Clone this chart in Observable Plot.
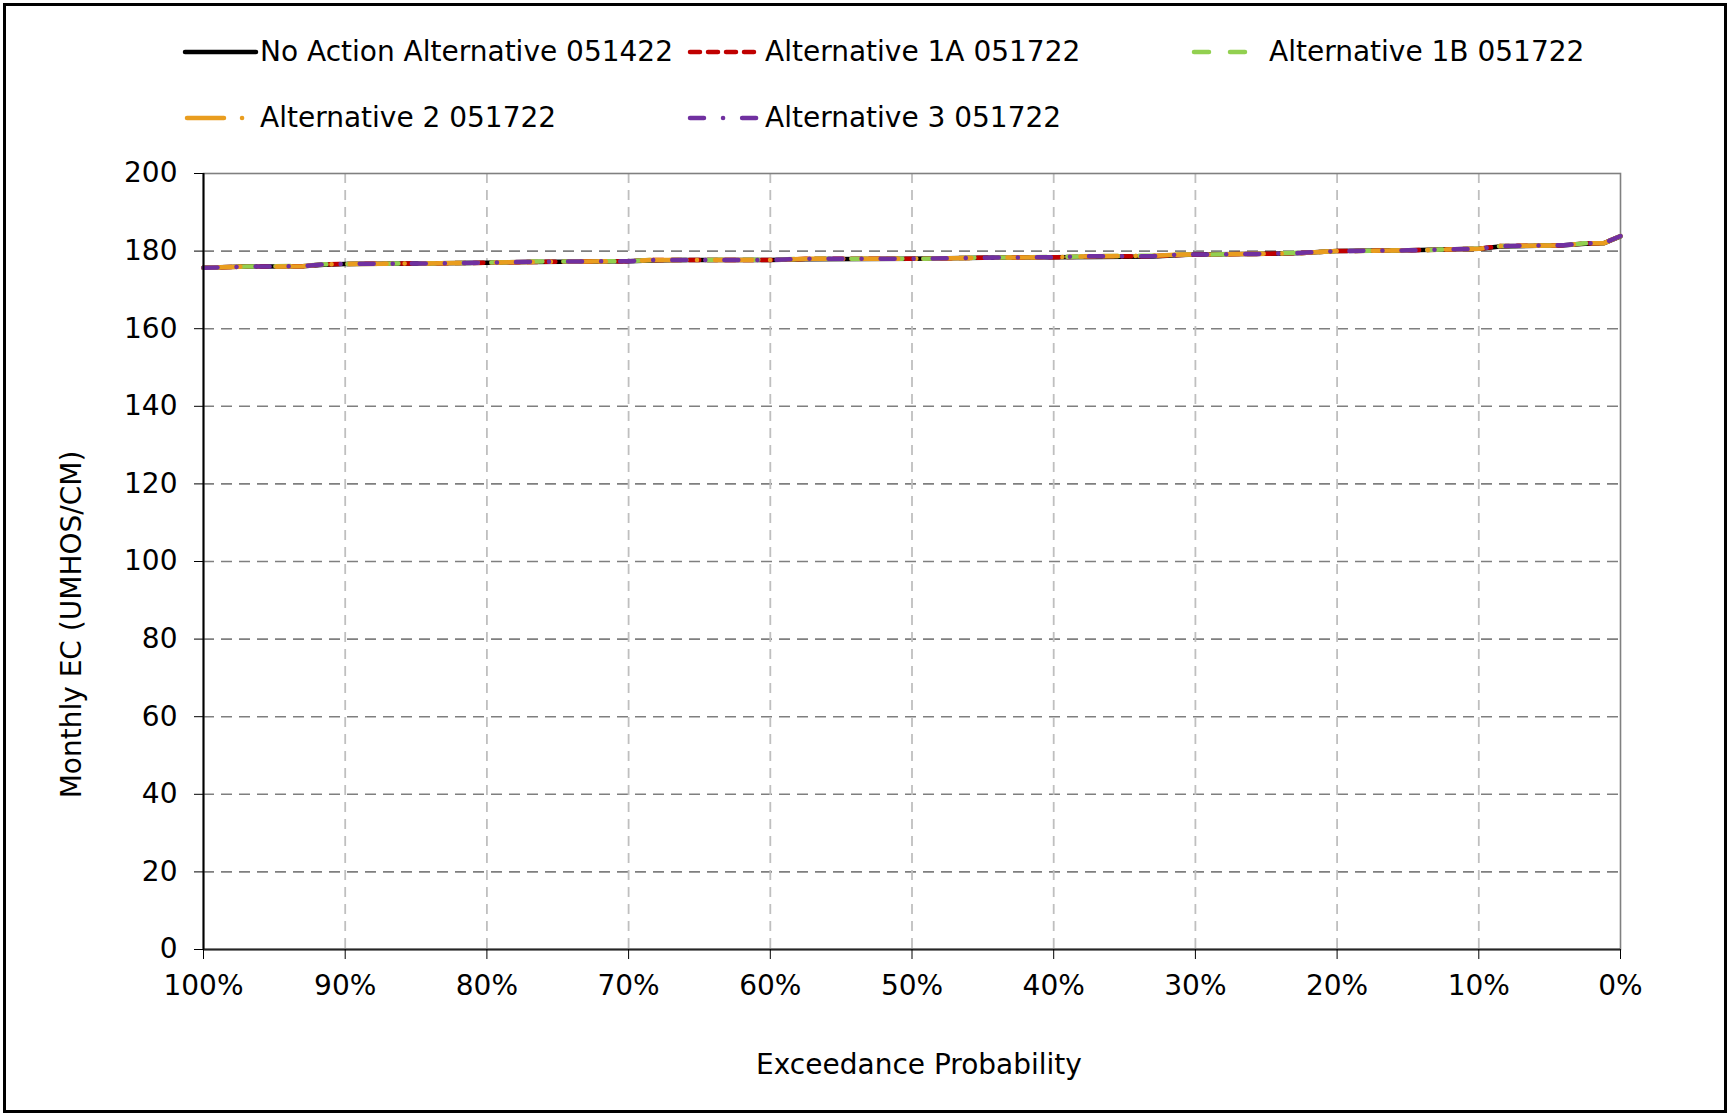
<!DOCTYPE html>
<html>
<head>
<meta charset="utf-8">
<script src="https://cdn.jsdelivr.net/npm/d3@7"></script>
<script src="https://cdn.jsdelivr.net/npm/@observablehq/plot@0.6"></script>
<style>
  html, body { margin: 0; padding: 0; background: #fff; }
  #page { position: relative; width: 1730px; height: 1115px; overflow: hidden; font-family: "DejaVu Sans", Verdana, sans-serif; }
  #chart { position: absolute; left: 0; top: 0; }
  #border { position: absolute; left: 3px; top: 3px; width: 1724px; height: 1110px; box-sizing: border-box; border: 3px solid #000; pointer-events: none; }
  .lg { position: absolute; height: 40px; line-height: 40px; font-size: 28px; color: #000; white-space: nowrap; }
  .sw { position: absolute; overflow: visible; }
</style>
</head>
<body>
<div id="page">
  <div id="chart"></div>
  <div id="legend"></div>
  <div id="border"></div>
</div>
<script>
// ---- data ----
const seriesNames = [
  "No Action Alternative 051422",
  "Alternative 1A 051722",
  "Alternative 1B 051722",
  "Alternative 2 051722",
  "Alternative 3 051722"
];
const seriesColors = ["#000000", "#c00000", "#92d050", "#e99d1f", "#7030a0"];

const exceedance = [100, 97, 93, 91.5, 90, 85, 80, 77, 70, 68.5, 66, 60, 57.5, 50, 45, 40, 37, 33, 31, 30, 25, 22.5, 20, 15, 10, 8.5, 4, 2.5, 1.2, 0];
const noAction = [175.7, 176.0, 176.1, 176.5, 176.7, 176.8, 177.0, 177.2, 177.4, 177.6, 177.7, 177.7, 177.9, 178.0, 178.3, 178.4, 178.5, 178.6, 179.0, 179.1, 179.3, 179.5, 180.0, 180.2, 180.6, 181.2, 181.5, 181.9, 182.0, 183.8];
const alt1A    = [175.7, 176.0, 176.1, 176.6, 176.7, 176.8, 177.0, 177.2, 177.4, 177.7, 177.7, 177.7, 178.0, 178.0, 178.3, 178.4, 178.7, 178.7, 179.0, 179.1, 179.3, 179.5, 180.0, 180.2, 180.6, 181.3, 181.5, 182.0, 182.0, 183.9];
const alt1B    = [175.7, 176.0, 176.2, 176.6, 176.7, 176.8, 177.0, 177.3, 177.4, 177.7, 177.7, 177.8, 178.0, 178.0, 178.3, 178.5, 178.7, 178.8, 179.1, 179.1, 179.3, 179.6, 180.0, 180.2, 180.6, 181.3, 181.5, 182.0, 182.0, 183.9];
const alt2     = [175.7, 176.0, 176.1, 176.6, 176.7, 176.8, 177.0, 177.2, 177.4, 177.7, 177.7, 177.7, 178.0, 178.0, 178.3, 178.4, 178.7, 178.8, 179.1, 179.1, 179.3, 179.5, 180.0, 180.2, 180.6, 181.3, 181.5, 182.0, 182.0, 183.9];
const alt3     = [175.7, 176.0, 176.1, 176.6, 176.7, 176.8, 177.0, 177.25, 177.4, 177.7, 177.7, 177.7, 178.0, 178.0, 178.3, 178.45, 178.7, 178.7, 179.1, 179.1, 179.3, 179.55, 180.0, 180.2, 180.6, 181.3, 181.5, 182.0, 182.0, 183.9];
const seriesValues = [noAction, alt1A, alt1B, alt2, alt3];

const xTicks = [100, 90, 80, 70, 60, 50, 40, 30, 20, 10, 0];
const xTickLabels = ["100%", "90%", "80%", "70%", "60%", "50%", "40%", "30%", "20%", "10%", "0%"];
const yTicks = [0, 20, 40, 60, 80, 100, 120, 140, 160, 180, 200];
const xTitle = "Exceedance Probability";
const yTitle = "Monthly EC (UMHOS/CM)";

// ---- styles ----
const dashes = [null, "10,8", "15,21", "37,18,0.1,18", "14,19,0.1,19"];
const lineW = 4.5;

const rows = [];
seriesNames.forEach((name, s) => {
  exceedance.forEach((p, i) => rows.push({series: name, p, v: seriesValues[s][i]}));
});

const lineMarks = seriesNames.map((name, s) =>
  Plot.line(rows.filter(r => r.series === name), {
    x: "p", y: "v",
    stroke: seriesColors[s],
    strokeWidth: lineW,
    strokeDasharray: dashes[s] || undefined,
    strokeLinecap: "round",
    strokeLinejoin: "round"
  })
);

const chart = Plot.plot({
  width: 1730,
  height: 1115,
  marginTop: 173,
  marginBottom: 166,
  marginLeft: 203,
  marginRight: 110,
  style: {fontFamily: "'DejaVu Sans', Verdana, sans-serif", fontSize: "28px", color: "#000", background: "transparent"},
  x: {domain: [100, 0]},
  y: {domain: [0, 200]},
  marks: [
    Plot.gridY(yTicks.slice(1, -1), {stroke: "#7f7f7f", strokeOpacity: 1, strokeWidth: 1.6, strokeDasharray: "11,7"}),
    Plot.gridX(xTicks.slice(1, -1), {stroke: "#bfbfbf", strokeOpacity: 1, strokeWidth: 1.8, strokeDasharray: "10,7"}),
    Plot.frame({stroke: "#808080", strokeWidth: 1.6}),
    ...lineMarks,
    Plot.ruleY([0], {stroke: "#262626", strokeWidth: 2}),
    Plot.ruleX([100], {stroke: "#000", strokeWidth: 2}),
    Plot.axisX(xTicks, {tickFormat: d => xTickLabels[xTicks.indexOf(d)], tickSize: 10, tickPadding: 16, label: null, fontSize: 28}),
    Plot.axisY(yTicks, {tickSize: 9, tickPadding: 17, label: null, fontSize: 28}),
    Plot.text([xTitle], {frameAnchor: "bottom", textAnchor: "middle", lineAnchor: "middle", dy: 116, dx: 7, fontSize: 28, fill: "#000"}),
    Plot.text([yTitle], {frameAnchor: "left", textAnchor: "middle", lineAnchor: "middle", rotate: -90, dx: -131, dy: 63, fontSize: 28, fill: "#000"})
  ]
});
document.getElementById("chart").appendChild(chart);

// ---- legend ----
const legendItems = [
  {s: 0, cy: 52, swLeft: 183, swW: 78, x1: 2, x2: 73, text: 260},
  {s: 1, cy: 52, swLeft: 686, swW: 78, x1: 4, x2: 73, text: 765},
  {s: 2, cy: 52, swLeft: 1190, swW: 66, x1: 4, x2: 60, text: 1269},
  {s: 3, cy: 118, swLeft: 183, swW: 66, x1: 4, x2: 60, text: 260},
  {s: 4, cy: 118, swLeft: 686, swW: 78, x1: 4, x2: 71, text: 765}
];
const legend = document.getElementById("legend");
const ns = "http://www.w3.org/2000/svg";
legendItems.forEach(it => {
  const svg = document.createElementNS(ns, "svg");
  svg.setAttribute("class", "sw");
  svg.setAttribute("width", it.swW);
  svg.setAttribute("height", 14);
  svg.style.left = it.swLeft + "px";
  svg.style.top = (it.cy - 7) + "px";
  const ln = document.createElementNS(ns, "line");
  ln.setAttribute("x1", it.x1); ln.setAttribute("x2", it.x2);
  ln.setAttribute("y1", 7); ln.setAttribute("y2", 7);
  ln.setAttribute("stroke", seriesColors[it.s]);
  ln.setAttribute("stroke-width", lineW);
  ln.setAttribute("stroke-linecap", "round");
  if (dashes[it.s]) ln.setAttribute("stroke-dasharray", dashes[it.s]);
  svg.appendChild(ln);
  legend.appendChild(svg);
  const d = document.createElement("div");
  d.className = "lg";
  d.style.left = it.text + "px";
  d.style.top = (it.cy - 20) + "px";
  d.textContent = seriesNames[it.s];
  legend.appendChild(d);
});
</script>
</body>
</html>
